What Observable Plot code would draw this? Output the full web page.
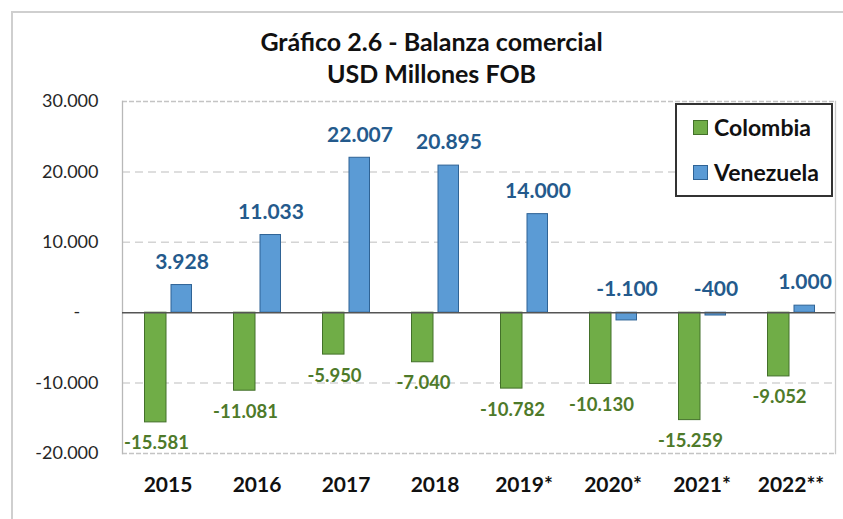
<!DOCTYPE html>
<html>
<head>
<meta charset="utf-8">
<script src="https://cdn.jsdelivr.net/npm/d3@7"></script>
<script src="https://cdn.jsdelivr.net/npm/@observablehq/plot@0.6"></script>
<style>
  html, body { margin: 0; padding: 0; background: #fff; }
  #wrap { position: relative; width: 843px; height: 519px; overflow: hidden; font-family: Lato, "Noto Sans", sans-serif; }
  #frameTop { position: absolute; left: 12px; top: 11px; width: 840px; height: 0; border-top: 2px solid #cfcfcf; }
  #frameLeft { position: absolute; left: 11px; top: 11px; width: 0; height: 520px; border-left: 2px solid #cfcfcf; }
  #title { position: absolute; left: 0; width: 863px; top: 25px; text-align: center; font-weight: 700; font-size: 25px; line-height: 32px; color: #111; }
  #legend { position: absolute; left: 675px; top: 103px; width: 154px; height: 90px; border: 2px solid #333; background: #fff; box-sizing: content-box; }
  .li { position: absolute; left: 16px; display: flex; align-items: center; font-weight: 700; font-size: 23px; color: #111; }
  .sw { width: 13px; height: 13px; margin-right: 6px; border: 1px solid; }
  #chart { position: absolute; left: 0; top: 0; }
</style>
</head>
<body>
<div id="wrap">
  <div id="chart"></div>
  <div id="frameTop"></div>
  <div id="frameLeft"></div>
  <div id="title"></div>
  <div id="legend"></div>
</div>
<script>
const titleLines = ["Gráfico 2.6 - Balanza comercial", "USD Millones FOB"];
const years = ["2015", "2016", "2017", "2018", "2019*", "2020*", "2021*", "2022**"];
const seriesNames = ["Colombia", "Venezuela"];
const colombia = [-15581, -11081, -5950, -7040, -10782, -10130, -15259, -9052];
const venezuela = [3928, 11033, 22007, 20895, 14000, -1100, -400, 1000];
const yTicks = [30000, 20000, 10000, 0, -10000, -20000];
const yTickLabels = ["30.000", "20.000", "10.000", "-", "-10.000", "-20.000"];
const gridTicks = [20000, 10000, -10000];

const colors = {
  Colombia: { fill: "#70AD47", stroke: "#43702A", label: "#4E7A2A" },
  Venezuela: { fill: "#5B9BD5", stroke: "#2F6395", label: "#245A8C" }
};

const fmt = d3.formatLocale({ decimal: ",", thousands: ".", grouping: [3], currency: ["", ""], minus: "-" }).format(",");

const colData = years.map((year, i) => ({ year, country: "Colombia", value: colombia[i] }));
const venData = years.map((year, i) => ({ year, country: "Venezuela", value: venezuela[i] }));

document.getElementById("title").innerHTML = titleLines.map(t => `<div>${t}</div>`).join("");
document.getElementById("legend").innerHTML = seriesNames.map((s, i) =>
  `<div class="li" style="top:${i === 0 ? 8 : 53}px"><span class="sw" style="background:${colors[s].fill};border-color:${colors[s].stroke}"></span>${s}</div>`
).join("");

const chart = Plot.plot({
  width: 843,
  height: 519,
  marginLeft: 122,
  marginRight: 8,
  marginTop: 101,
  marginBottom: 66,
  style: { fontFamily: "Lato, 'Noto Sans', sans-serif", background: "transparent" },
  x: { domain: years, padding: 0 },
  y: { domain: [-20000, 30000] },
  marks: [
    Plot.ruleY(gridTicks, { stroke: "#d4d4d4", strokeWidth: 1.5, strokeDasharray: "8,5" }),
    Plot.ruleY([30000, -20000], { stroke: "#c4c4c4", strokeWidth: 1.3, strokeDasharray: "5,2" }),
    Plot.frame({ anchor: "left", stroke: "#b8b8b8", strokeWidth: 1.3 }),
    Plot.frame({ anchor: "right", stroke: "#c8c8c8", strokeWidth: 1.3 }),
    Plot.barY(colData, { x: "year", y: "value", fill: colors.Colombia.fill, stroke: colors.Colombia.stroke, strokeWidth: 1, insetLeft: 21.5, insetRight: 46 }),
    Plot.barY(venData, { x: "year", y: "value", fill: colors.Venezuela.fill, stroke: colors.Venezuela.stroke, strokeWidth: 1, insetLeft: 48, insetRight: 20.5 }),
    Plot.ruleY([0], { stroke: "#555", strokeWidth: 1.5 }),
    Plot.text(colData, { x: "year", y: "value", text: d => fmt(d.value), dx: -11.5, dy: 21, fill: colors.Colombia.label, fontWeight: "bold", fontSize: 18.5 }),
    Plot.text(venData, { x: "year", y: d => Math.max(d.value, 0), text: d => fmt(d.value), dx: 14, dy: -23, fill: colors.Venezuela.label, fontWeight: "bold", fontSize: 21 }),
    Plot.axisY(yTicks, { tickSize: 0, tickPadding: 24, fontSize: 18, fill: "#262626", label: null,
      tickFormat: d => { const l = yTickLabels[yTicks.indexOf(d)]; return l === "-" ? "-\u00a0\u00a0\u00a0\u00a0" : l; } }),
    Plot.axisX({ tickSize: 0, tickPadding: 24, fontSize: 21, fontWeight: "bold", fill: "#111", label: null })
  ]
});
document.getElementById("chart").appendChild(chart);
</script>
</body>
</html>
